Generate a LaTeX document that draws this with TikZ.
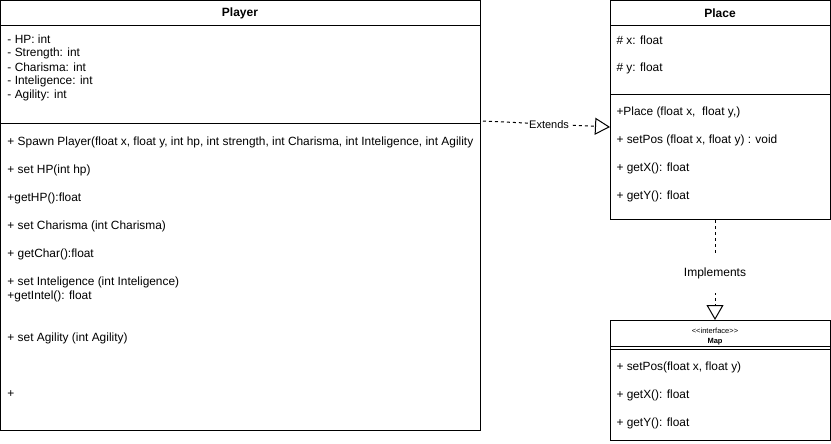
\documentclass[tikz,border=0pt]{standalone}
\usepackage{fontspec}
\setmainfont{Liberation Sans}
\usetikzlibrary{arrows.meta}
\begin{document}
\begin{tikzpicture}[x=1pt,y=-1pt,line width=1pt,
  box/.style={draw,anchor=north west,inner sep=0pt},
  txt/.style={anchor=west,inner sep=0pt,font=\fontsize{11.9}{14}\selectfont},
  ttl/.style={inner sep=0pt,font=\fontsize{12}{14}\selectfont\bfseries},
  dsh/.style={dash pattern=on 3pt off 3pt},
  tri/.style={-{Triangle[open,length=15pt,width=17pt,fill=white]}},
  lbl/.style={fill=white,inner sep=1pt,font=\fontsize{11}{13}\selectfont}]
\useasboundingbox (0,0) rectangle (831,444);
% Player
\node[box,minimum width=480pt,minimum height=430pt] (player) at (0,0) {};
\draw (0,26) -- (480,26);
\draw (0,124) -- (480,124);
\node[ttl] (ptitle) at (240,13) {Player};
\node[txt] (a1) at (7,39) {- HP: int};
\node[txt] (a2) at (7,53) {- Strength: int};
\node[txt] (a3) at (7,67) {- Charisma: int};
\node[txt] (a4) at (7,81) {- Inteligence: int};
\node[txt] (a5) at (7,95) {- Agility: int};
\node[txt] (m1) at (7,142) {+ Spawn Player(float x, float y, int hp, int strength, int Charisma, int Inteligence, int Agility};
\node[txt] (m2) at (7,170) {+ set HP(int hp)};
\node[txt] (m3) at (7,198) {+getHP():float};
\node[txt] (m4) at (7,226) {+ set Charisma (int Charisma)};
\node[txt] (m5) at (7,254) {+ getChar():float};
\node[txt] (m6) at (7,282) {+ set Inteligence (int Inteligence)};
\node[txt] (m7) at (7,296) {+getIntel(): float};
\node[txt] (m8) at (7,338) {+ set Agility (int Agility)};
\node[txt] (m9) at (7,394) {+};
% Place
\node[box,minimum width=220pt,minimum height=219pt] (place) at (610,0) {};
\draw (610,26) -- (830,26);
\draw (610,95) -- (830,95);
\node[ttl] (pltitle) at (720,13) {Place};
\node[txt] (b1) at (616,40) {\# x: float};
\node[txt] (b2) at (616,68) {\# y: float};
\node[txt] (c1) at (616,112) {+Place (float x,\ \ float y,)};
\node[txt] (c2) at (616,140) {+ setPos (float x, float y) : void};
\node[txt] (c3) at (616,168) {+ getX(): float};
\node[txt] (c4) at (616,196) {+ getY(): float};
% Map
\node[box,minimum width=220pt,minimum height=120pt] (map) at (610,320) {};
\draw (610,346.5) -- (830,346.5);
\draw (610,349.5) -- (830,349.5);
\node[inner sep=0pt,font=\fontsize{7.5}{8}\selectfont] (st) at (715,331) {<{}<interface>{}>};
\node[inner sep=0pt,font=\fontsize{7.5}{8}\selectfont\bfseries] (mt) at (715,342) {Map};
\node[txt] (d1) at (616,367) {+ setPos(float x, float y)};
\node[txt] (d2) at (616,395) {+ getX(): float};
\node[txt] (d3) at (616,423) {+ getY(): float};
% connectors
\coordinate (es) at (483,121);
\coordinate (ee) at (610,127);
\draw[dsh,tri] (es) -- node[lbl,pos=0.52] (ext) {Extends} (ee);
\coordinate (is) at (715,220);
\coordinate (ie) at (715,320);
\draw[dsh,tri] (is) -- node[fill=white,inner xsep=2pt,inner ysep=14pt,pos=0.53,font=\fontsize{12}{14}\selectfont] (impl) {Implements} (ie);
\end{tikzpicture}
\end{document}
